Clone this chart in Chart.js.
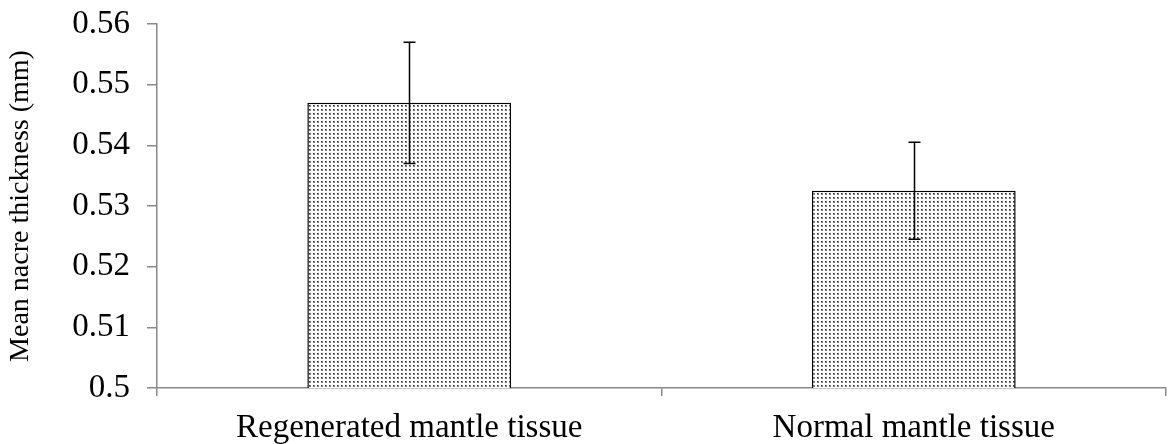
<!DOCTYPE html>
<html>
<head>
<meta charset="utf-8">
<script src="https://cdn.jsdelivr.net/npm/chart.js@4/dist/chart.umd.min.js"></script>
<style>
  html, body { margin: 0; padding: 0; background: #fff; }
</style>
</head>
<body>
<canvas id="nacreChart" width="1169" height="444"></canvas>
<script>
const categories = ['Regenerated mantle tissue', 'Normal mantle tissue'];
const meanThickness = [0.547, 0.5325];
const errorValues = [0.010, 0.008];
const yTicks = [0.5, 0.51, 0.52, 0.53, 0.54, 0.55, 0.56];

// dotted fill like the Excel pattern
function makeDots() {
  const c = document.createElement('canvas');
  c.width = 4; c.height = 4;
  const g = c.getContext('2d');
  g.fillStyle = '#ffffff';
  g.fillRect(0, 0, 4, 4);
  g.fillStyle = '#7a7a7a';
  g.fillRect(1, 1, 2, 2);
  g.fillStyle = '#383838';
  g.fillRect(1, 1, 1, 1);
  return g.createPattern(c, 'repeat');
}

const errorBars = {
  id: 'errorBars',
  afterDatasetsDraw(chart) {
    const { ctx, scales: { y } } = chart;
    const meta = chart.getDatasetMeta(0);
    ctx.save();
    ctx.strokeStyle = '#000';
    ctx.lineWidth = 1.5;
    meta.data.forEach((bar, i) => {
      const v = meanThickness[i];
      const top = y.getPixelForValue(v + errorValues[i]);
      const bot = y.getPixelForValue(v - errorValues[i]);
      const x = Math.round(bar.x) + 0.5;
      ctx.beginPath();
      ctx.moveTo(x, top); ctx.lineTo(x, bot);
      ctx.moveTo(x - 6, top); ctx.lineTo(x + 6, top);
      ctx.moveTo(x - 6, bot); ctx.lineTo(x + 6, bot);
      ctx.stroke();
    });
    ctx.restore();
  }
};

const font = 'Liberation Serif';

new Chart(document.getElementById('nacreChart'), {
  type: 'bar',
  data: {
    labels: categories,
    datasets: [{
      data: meanThickness,
      backgroundColor: makeDots(),
      borderColor: '#000',
      borderWidth: 1.5,
      categoryPercentage: 1,
      barPercentage: 0.404
    }]
  },
  options: {
    responsive: false,
    animation: false,
    layout: { padding: { top: 24, right: 3, left: 0, bottom: 0 } },
    plugins: { legend: { display: false }, tooltip: { enabled: false } },
    scales: {
      x: {
        afterFit(scale) { scale.height = 56; scale.paddingLeft = 0; scale.paddingRight = 0; },
        grid: { drawOnChartArea: false, tickLength: 8, color: '#898989', lineWidth: 1.5 },
        border: { color: '#898989', width: 1.5 },
        ticks: { color: '#000', font: { family: font, size: 33 }, padding: 13, maxRotation: 0 }
      },
      y: {
        min: 0.5,
        max: 0.56,
        afterFit(scale) { scale.width = 157; scale.paddingTop = 0; scale.paddingBottom = 0; },
        afterBuildTicks(scale) { scale.ticks = yTicks.map(v => ({ value: v })); },
        grid: { drawOnChartArea: false, tickLength: 10, color: '#898989', lineWidth: 1.5 },
        border: { color: '#898989', width: 1.5 },
        ticks: {
          color: '#000',
          font: { family: font, size: 33 },
          padding: 17,
          callback: v => String(+v.toFixed(2))
        },
        title: {
          display: true,
          text: 'Mean nacre thickness (mm)',
          color: '#000',
          font: { family: font, size: 28, lineHeight: 1 },
          padding: { top: 7, bottom: 0 }
        }
      }
    }
  },
  plugins: [errorBars]
});
</script>
</body>
</html>
